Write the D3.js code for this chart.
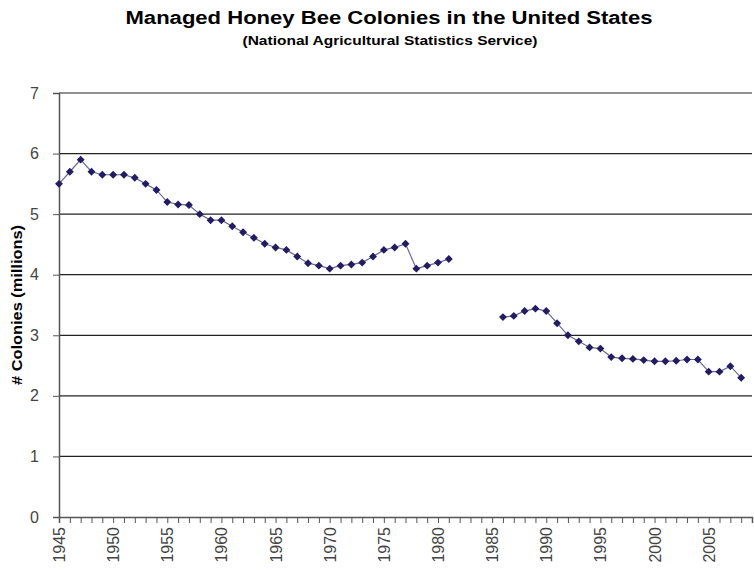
<!DOCTYPE html>
<html>
<head>
<meta charset="utf-8">
<script src="https://cdn.jsdelivr.net/npm/d3@7"></script>
<style>
  body { margin: 0; background: #fff; }
  svg { font-family: "Liberation Sans", Arial, sans-serif; }
</style>
</head>
<body>
<div id="chart"></div>
<script>
// colonies in millions, null = no survey that year
var years = d3.range(1945, 2009);
var colonies = [
  5.5, 5.7, 5.9, 5.7, 5.65, 5.65, 5.65, 5.6, 5.5, 5.4,
  5.2, 5.16, 5.15, 5.0, 4.9, 4.9, 4.8, 4.7, 4.61, 4.51,
  4.45, 4.41, 4.3, 4.19, 4.15, 4.1, 4.15, 4.17, 4.2, 4.3,
  4.41, 4.45, 4.51, 4.1, 4.15, 4.2, 4.26, null, null, null,
  null, 3.3, 3.32, 3.4, 3.44, 3.4, 3.2, 3.0, 2.9, 2.8,
  2.78, 2.64, 2.62, 2.61, 2.59, 2.57, 2.57, 2.58, 2.6, 2.6,
  2.4, 2.4, 2.49, 2.3
];
var yTicks = [0, 1, 2, 3, 4, 5, 6, 7];
var xLabels = d3.range(1945, 2010, 5);

var svgWidth = 754, svgHeight = 571;
var plotLeft = 59, plotRight = 752, plotTop = 93, plotBottom = 517;

var svg = d3.select('#chart').append("svg")
    .attr("width", svgWidth)
    .attr("height", svgHeight);

var x = d3.scaleLinear().domain([1945, 2009]).range([plotLeft, plotRight]);
var y = d3.scaleLinear().domain([0, 7]).range([plotBottom, plotTop]);

var data = years.map(function(yr, i) { return {year: yr, value: colonies[i]}; });

// title
svg.append("text")
    .attr("x", 389).attr("y", 24)
    .attr("text-anchor", "middle")
    .attr("font-size", "18px").attr("font-weight", "bold")
    .attr("textLength", 527).attr("lengthAdjust", "spacingAndGlyphs")
    .text("Managed Honey Bee Colonies in the United States");
svg.append("text")
    .attr("x", 390).attr("y", 45)
    .attr("text-anchor", "middle")
    .attr("font-size", "13px").attr("font-weight", "bold")
    .attr("textLength", 295).attr("lengthAdjust", "spacingAndGlyphs")
    .text("(National Agricultural Statistics Service)");

// gridlines
svg.append("g").selectAll("line")
    .data(yTicks.filter(function(d) { return d > 0; }))
    .enter().append("line")
    .attr("x1", plotLeft).attr("x2", plotRight)
    .attr("y1", function(d) { return y(d); })
    .attr("y2", function(d) { return y(d); })
    .attr("stroke", "#222").attr("stroke-width", 1.2);

// y axis
var yAxis = svg.append("g")
    .attr("transform", "translate(" + plotLeft + ",0)")
    .call(d3.axisLeft(y).tickValues(yTicks).tickFormat(d3.format("d")).tickSize(6).tickPadding(14));
yAxis.select(".domain").attr("stroke", "#555").attr("stroke-width", 1.5);
yAxis.selectAll(".tick line").attr("stroke", "#555");
yAxis.selectAll("text")
    .attr("font-size", "16px").attr("fill", "#444")
    .attr("font-family", "Liberation Sans, Arial, sans-serif");

// x axis
var xAxis = svg.append("g")
    .attr("transform", "translate(0," + plotBottom + ")")
    .call(d3.axisBottom(x).tickValues(d3.range(1945, 2010)).tickSize(6).tickFormat(""));
xAxis.select(".domain").attr("stroke", "#555").attr("stroke-width", 1.5);
xAxis.selectAll(".tick line").attr("stroke", "#555");

svg.append("g").selectAll("text")
    .data(xLabels)
    .enter().append("text")
    .attr("transform", function(d) { return "translate(" + (x(d) + 6) + "," + (plotBottom + 10) + ") rotate(-90)"; })
    .attr("text-anchor", "end")
    .attr("font-size", "16px").attr("fill", "#444")
    .text(function(d) { return d; });

// y label
svg.append("text")
    .attr("transform", "translate(22," + ((plotTop + plotBottom) / 2) + ") rotate(-90)")
    .attr("text-anchor", "middle")
    .attr("font-size", "15px").attr("font-weight", "bold")
    .attr("textLength", 160).attr("lengthAdjust", "spacingAndGlyphs")
    .text("# Colonies (millions)");

// line
var line = d3.line()
    .defined(function(d) { return d.value != null; })
    .x(function(d) { return x(d.year); })
    .y(function(d) { return y(d.value); });

svg.append("path")
    .datum(data)
    .attr("d", line)
    .attr("fill", "none")
    .attr("stroke", "#6a6898")
    .attr("stroke-width", 1.2);

// diamond markers
svg.append("g").selectAll("path")
    .data(data.filter(function(d) { return d.value != null; }))
    .enter().append("path")
    .attr("d", d3.symbol().type(d3.symbolDiamond2).size(40))
    .attr("transform", function(d) { return "translate(" + x(d.year) + "," + y(d.value) + ")"; })
    .attr("fill", "#231c63");
</script>
</body>
</html>
